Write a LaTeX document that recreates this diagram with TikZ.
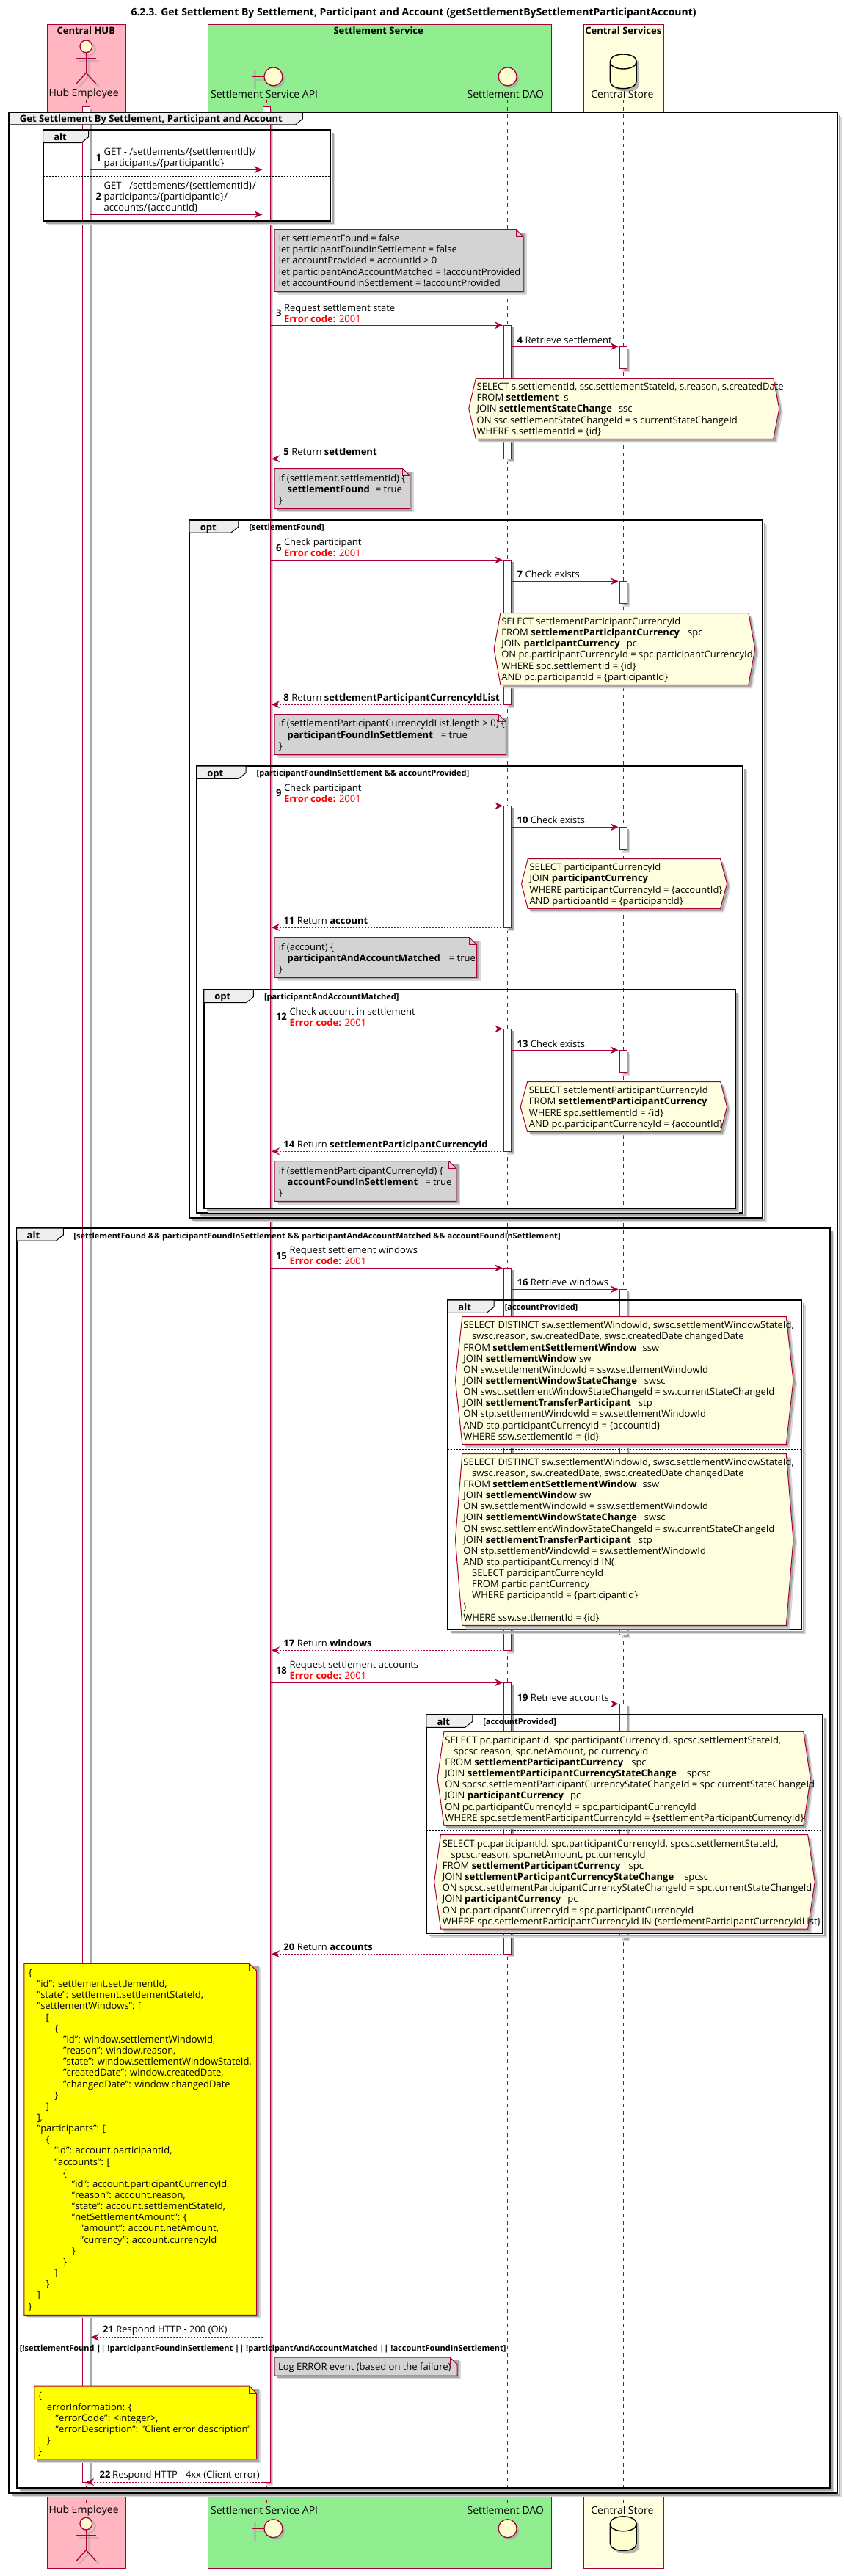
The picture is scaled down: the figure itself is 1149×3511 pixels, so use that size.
\documentclass[tikz,border=0pt]{standalone}
\usepackage{fontspec}
\setmainfont{Open Sans}
\usetikzlibrary{arrows.meta}
\definecolor{maroonc}{HTML}{A80036}
\definecolor{pinkc}{HTML}{FFB6C1}
\definecolor{greenc}{HTML}{90EE90}
\definecolor{lyellow}{HTML}{FFFFE0}
\definecolor{yellowc}{HTML}{FFFF00}
\definecolor{actorc}{HTML}{FEFECE}
\definecolor{notegray}{HTML}{D3D3D3}
\definecolor{tabc}{HTML}{EEEEEE}
\definecolor{errc}{HTML}{FF0000}
\definecolor{shadowa}{HTML}{A6A6A6}
\definecolor{shadowb}{HTML}{D8D8D8}
\newlength\indu \setlength\indu{11.8pt}
\newcommand\ind[1]{\hspace*{#1\indu}}
\newcommand\gp[1]{\hspace{#1pt}}
\newcommand\myErr{{\color{errc}\textbf{Error code:} 2001}}
\tikzset{
  txt/.style={inner sep=0pt,outer sep=0pt,align=left,anchor=base west,text=black,font=\fontsize{13}{15.15}\selectfont},
  boldtxt/.style={font=\fontsize{13}{15.15}\bfseries\selectfont},
  condtxt/.style={font=\fontsize{11}{13}\bfseries\selectfont},
  parttxt/.style={inner sep=0pt,outer sep=0pt,anchor=center,text=black,font=\fontsize{14}{16}\selectfont},
  headtxt/.style={inner sep=0pt,outer sep=0pt,anchor=center,text=black,font=\fontsize{13}{15}\bfseries\selectfont},
  msgline/.style={draw=maroonc,line width=1pt,-{Stealth[length=11pt,width=10pt,inset=4pt]}},
  retline/.style={draw=maroonc,line width=1pt,dash pattern=on 2pt off 2pt,-{Stealth[length=11pt,width=10pt,inset=4pt]}},
  lifeline/.style={draw=maroonc,line width=.8pt,dash pattern=on 5pt off 5pt},
  sepline/.style={draw=black,line width=1pt,dash pattern=on 2pt off 2pt},
  pline/.style={draw=maroonc,line width=1pt},
  actline/.style={draw=maroonc,line width=1.3pt},
}
% text: [style]{name}{x}{y of last line's centre}{content}
\newcommand\myT[5][]{\node[txt,#1] (#2) at (#3,#4+4.5) {#5};}
% frame
\newcommand\myFrame[6]{%
  \draw[shadowb,line width=2pt] (#3+5,#2+6) -- (#3+5,#4+5) -- (#1+6,#4+5);
  \draw[shadowa,line width=2.5pt] (#3+3,#2+4) -- (#3+3,#4+3) -- (#1+4,#4+3);
  \draw[black,line width=2pt] (#1,#2) rectangle (#3,#4);
  \draw[black,fill=tabc,line width=1pt] (#1,#2) -- (#5,#2) -- (#5,#6-8) -- (#5-10,#6) -- (#1,#6) -- cycle;
}
% note: x1 y1 x2 y2 colour
\newcommand\myNote[5]{%
  \fill[shadowb] (#1+5,#2+5) rectangle (#3+5,#4+5);
  \fill[shadowa] (#1+3,#2+4) rectangle (#3+3,#4+3);
  \draw[pline,fill=#5] (#1,#2) -- (#3-10,#2) -- (#3,#2+10) -- (#3,#4) -- (#1,#4) -- cycle;
  \draw[pline] (#3-10,#2) -- (#3-10,#2+10) -- (#3,#2+10);
}
% hex note: x-left-tip x1 y1 x2 x-right-tip y2
\newcommand\myHex[6]{%
  \fill[shadowb] (#2+5,#3+5) -- (#4+5,#3+5) -- (#5+5,#3/2+#6/2+5) -- (#4+5,#6+5) -- (#2+5,#6+5) -- cycle;
  \fill[shadowa] (#2+3,#3+4) -- (#4+3,#3+4) -- (#5+3,#3/2+#6/2+3) -- (#4+3,#6+3) -- (#2+3,#6+3) -- cycle;
  \draw[pline,fill=lyellow] (#2,#3) -- (#4,#3) -- (#5,#3/2+#6/2) -- (#4,#6) -- (#2,#6) -- (#1,#3/2+#6/2) -- cycle;
}
% activation: x y1 y2
\newcommand\myAct[3]{%
  \fill[shadowb] (#1-1,#2+5) rectangle (#1+9,#3+5);
  \fill[shadowa] (#1+1,#2+3) rectangle (#1+8,#3+3);
  \draw[pline,fill=white] (#1-5,#2) rectangle (#1+5,#3);
}
% message: name x1 x2 y style
\newcommand\myMsg[5]{%
  \coordinate (#1-a) at (#2,#4);
  \coordinate (#1-b) at (#3,#4);
  \draw[#5] (#1-a) -- (#1-b);
}
% participant glyphs
\newcommand\actorPath[3]{%
  \draw[#3] (#1,#2) circle[radius=8.3pt];
  \draw[#3] (#1,#2+8.3) -- (#1,#2+36);
  \draw[#3] (#1-14,#2+16) -- (#1+14,#2+16);
  \draw[#3] (#1-13.5,#2+51) -- (#1,#2+36) -- (#1+13.5,#2+51);
}
\newcommand\myActor[2]{%
  \actorPath{#1+4}{#2+4}{draw=shadowa,line width=2.5pt,opacity=.55}
  \fill[actorc] (#1,#2) circle[radius=8.3pt];
  \actorPath{#1}{#2}{actline}
}
\newcommand\myBoundary[2]{% circle centre
  \fill[shadowa,opacity=.7] (#1+3,#2+3) circle[radius=12.5pt];
  \draw[shadowa,opacity=.55,line width=2.5pt] (#1-25,#2-8) -- (#1-25,#2+17) (#1-25,#2+4) -- (#1-10,#2+4);
  \draw[actline,fill=actorc] (#1,#2) circle[radius=12.5pt];
  \draw[actline] (#1-29,#2-12.8) -- (#1-29,#2+12.8) (#1-29,#2) -- (#1-12.5,#2);
}
\newcommand\myEntity[2]{%
  \fill[shadowa,opacity=.7] (#1+3,#2+3) circle[radius=12.5pt];
  \draw[actline,fill=actorc] (#1,#2) circle[radius=12.5pt];
  \draw[actline] (#1-12.8,#2+14) -- (#1+12.8,#2+14);
}
\newcommand\myDb[2]{% centre x, top y
  \fill[shadowa,opacity=.8] (#1-18+4,#2+10+4) .. controls (#1-18+4,#2-3.3+4) and (#1+18+4,#2-3.3+4) .. (#1+18+4,#2+10+4) -- (#1+18+4,#2+36.7+4) .. controls (#1+18+4,#2+50+4) and (#1-18+4,#2+50+4) .. (#1-18+4,#2+36.7+4) -- cycle;
  \draw[black,line width=1.4pt,fill=actorc] (#1-18,#2+10) .. controls (#1-18,#2-3.3) and (#1+18,#2-3.3) .. (#1+18,#2+10) -- (#1+18,#2+36.7) .. controls (#1+18,#2+50) and (#1-18,#2+50) .. (#1-18,#2+36.7) -- cycle;
  \draw[black,line width=1.4pt] (#1-18,#2+10) .. controls (#1-18,#2+23.3) and (#1+18,#2+23.3) .. (#1+18,#2+10);
}
\def\xH{117.6}
\def\xA{364.2}
\def\xD{693.4}
\def\xS{851.4}
\begin{document}
\begin{tikzpicture}[x=.9975pt,y=-1pt]
\useasboundingbox (0pt,0pt) rectangle (1149pt,-3511pt);
% boxes
\draw[pline,fill=pinkc] (64.5,34) rectangle (171.6,3500.4);
\draw[pline,fill=greenc] (284,34) rectangle (753,3500.4);
\draw[pline,fill=lyellow] (797.6,34) rectangle (907,3500.4);
% outer frame background
\fill[white] (12.5,153.3) rectangle (1144,3397.7);
% lifelines
\foreach \nm/\xx in {h/\xH,a/\xA,d/\xD,s/\xS}{
  \coordinate (ll-\nm-top) at (\xx,136.5);
  \coordinate (ll-\nm-bot) at (\xx,3411.3);
  \draw[lifeline] (ll-\nm-top) -- (ll-\nm-bot);
}
% activations
\myAct{\xH}{146}{3383}
\myAct{\xA}{146}{3383}
\myAct{\xD}{443.3}{625.3}
\myAct{\xS}{472.3}{502.3}
\myAct{\xD}{763.3}{960.3}
\myAct{\xS}{792.3}{822.3}
\myAct{\xD}{1098.3}{1264}
\myAct{\xS}{1127.3}{1157.3}
\myAct{\xD}{1402.3}{1569.3}
\myAct{\xS}{1431.3}{1461.3}
\myAct{\xD}{1728.3}{2249.3}
\myAct{\xS}{1757.3}{2228.3}
\myAct{\xD}{2293.3}{2663.3}
\myAct{\xS}{2322.3}{2641.3}
% frames
\myFrame{12.5}{153.3}{1144}{3397.7}{413.5}{170}
\myFrame{58.8}{177.3}{451.5}{300.7}{121}{194.7}
\myFrame{258.8}{709.3}{1041.6}{1660}{325.7}{726}
\myFrame{268.3}{1044}{1014.4}{1653.3}{336}{1061.3}
\myFrame{278.6}{1349}{1004}{1646.7}{346.2}{1366.7}
\myFrame{22.8}{1674}{1133.5}{3390.7}{86.7}{1691}
\myFrame{611.6}{1772}{1094.6}{2221.3}{674.8}{1789.3}
\myFrame{582.2}{2337.3}{1124}{2635}{645.4}{2354.3}
% else separators
\coordinate (s1a) at (58.8,240.3); \coordinate (s1b) at (451.5,240.3); \draw[sepline] (s1a) -- (s1b);
\coordinate (s2a) at (611.6,1975.3); \coordinate (s2b) at (1094.6,1975.3); \draw[sepline] (s2a) -- (s2b);
\coordinate (s3a) at (582.2,2494.3); \coordinate (s3b) at (1124,2494.3); \draw[sepline] (s3a) -- (s3b);
\coordinate (s4a) at (22.8,3193.8); \coordinate (s4b) at (1133.5,3193.8); \draw[sepline] (s4a) -- (s4b);
% frame labels
\myT[boldtxt]{f0}{27}{162.3}{Get Settlement By Settlement, Participant and Account}
\myT[boldtxt]{f1}{73.5}{186.7}{alt}
\myT[boldtxt]{f2}{273.5}{719}{opt}
\myT[condtxt]{c2}{340.4}{718.3}{[settlementFound]}
\myT[boldtxt]{f3}{283}{1053.7}{opt}
\myT[condtxt]{c3}{350.6}{1053.3}{[participantFoundInSettlement \&\& accountProvided]}
\myT[boldtxt]{f4}{293}{1358}{opt}
\myT[condtxt]{c4}{361}{1358}{[participantAndAccountMatched]}
\myT[boldtxt]{f5}{36.8}{1684}{alt}
\myT[condtxt]{c5}{100.7}{1683.7}{[settlementFound \&\& participantFoundInSettlement \&\& participantAndAccountMatched \&\& accountFoundInSettlement]}
\myT[boldtxt]{f6}{626}{1781.7}{alt}
\myT[condtxt]{c6}{689.5}{1781.3}{[accountProvided]}
\myT[boldtxt]{f7}{597}{2346.7}{alt}
\myT[condtxt]{c7}{660}{2346.3}{[accountProvided]}
\myT[condtxt]{c8}{27}{3200}{[!settlementFound || !participantFoundInSettlement || !participantAndAccountMatched || !accountFoundInSettlement]}
% notes
\myNote{375}{312.7}{715}{397.3}{notegray}
\myT{n1}{380.8}{385.7}{let settlementFound = false\\let participantFoundInSettlement = false\\let accountProvided = accountId > 0\\let participantAndAccountMatched = !accountProvided\\let accountFoundInSettlement = !accountProvided}
\myNote{375}{638.7}{560}{693.3}{notegray}
\myT{n2}{380.8}{682.3}{if (settlement.settlementId) \{\\\ind{1}\textbf{settlementFound}\gp{8}= true\\\}}
\myNote{375}{973.7}{691}{1028.3}{notegray}
\myT{n3}{380.8}{1016.7}{if (settlementParticipantCurrencyIdList.length > 0) \{\\\ind{1}\textbf{participantFoundInSettlement}\gp{11}= true\\\}}
\myNote{375}{1277.7}{651.3}{1332.3}{notegray}
\myT{n4}{380.8}{1321}{if (account) \{\\\ind{1}\textbf{participantAndAccountMatched}\gp{12}= true\\\}}
\myNote{375}{1582.7}{623.4}{1637.3}{notegray}
\myT{n5}{380.8}{1626}{if (settlementParticipantCurrencyId) \{\\\ind{1}\textbf{accountFoundInSettlement}\gp{10}= true\\\}}
\myNote{33}{2676.3}{350.6}{3155.3}{yellowc}
\myT{n6}{39}{3143.5}{\{\\
\ind{1}"id": settlement.settlementId,\\
\ind{1}"state": settlement.settlementStateId,\\
\ind{1}"settlementWindows": [\\
\ind{2}[\\
\ind{3}\{\\
\ind{4}"id": window.settlementWindowId,\\
\ind{4}"reason": window.reason,\\
\ind{4}"state": window.settlementWindowStateId,\\
\ind{4}"createdDate": window.createdDate,\\
\ind{4}"changedDate": window.changedDate\\
\ind{3}\}\\
\ind{2}]\\
\ind{1}],\\
\ind{1}"participants": [\\
\ind{2}\{\\
\ind{3}"id": account.participantId,\\
\ind{3}"accounts": [\\
\ind{4}\{\\
\ind{5}"id": account.participantCurrencyId,\\
\ind{5}"reason": account.reason,\\
\ind{5}"state": account.settlementStateId,\\
\ind{5}"netSettlementAmount": \{\\
\ind{6}"amount": account.netAmount,\\
\ind{6}"currency": account.currencyId\\
\ind{5}\}\\
\ind{4}\}\\
\ind{3}]\\
\ind{2}\}\\
\ind{1}]\\
\}}
\myNote{375}{3213.1}{624.8}{3238.2}{notegray}
\myT{n7}{380}{3225.5}{Log ERROR event (based on the failure)}
\myNote{47}{3252}{350.6}{3351.6}{yellowc}
\myT{n8}{52.2}{3341.1}{\{\\
\ind{1}errorInformation: \{\\
\ind{2}"errorCode": <integer>,\\
\ind{2}"errorDescription": "Client error description"\\
\ind{1}\}\\
\}}
% hex notes
\myHex{640.3}{650}{515.7}{1056.4}{1064.4}{598.3}
\myT{h1}{651.3}{587.7}{SELECT s.settlementId, ssc.settlementStateId, s.reason, s.createdDate\\FROM \textbf{settlement}\gp{7}s\\JOIN \textbf{settlementStateChange}\gp{9}ssc\\ON ssc.settlementStateChangeId = s.currentStateChangeId\\WHERE s.settlementId = \{id\}}
\myHex{674.8}{683.6}{835.7}{1022.5}{1031.3}{933.3}
\myT{h2}{685}{922.7}{SELECT settlementParticipantCurrencyId\\FROM \textbf{settlementParticipantCurrency}\gp{11}spc\\JOIN \textbf{participantCurrency}\gp{9}pc\\ON pc.participantCurrencyId = spc.participantCurrencyId\\WHERE spc.settlementId = \{id\}\\AND pc.participantId = \{participantId\}}
\myHex{712.3}{721}{1170.7}{984}{993}{1238.3}
\myT{h3}{723.3}{1227.7}{SELECT participantCurrencyId\\JOIN \textbf{participantCurrency}\\WHERE participantCurrencyId = \{accountId\}\\AND participantId = \{participantId\}}
\myHex{710.9}{720.4}{1474.7}{984.3}{993}{1542.3}
\myT{h4}{722.6}{1531.7}{SELECT settlementParticipantCurrencyId\\FROM \textbf{settlementParticipantCurrency}\\WHERE spc.settlementId = \{id\}\\AND pc.participantCurrencyId = \{accountId\}}
\myHex{622}{631.4}{1794.7}{1074}{1083.6}{1968.3}
\myT{h5}{633}{1957.7}{SELECT DISTINCT sw.settlementWindowId, swsc.settlementWindowStateId,\\\ind{1}swsc.reason, sw.createdDate, swsc.createdDate changedDate\\FROM \textbf{settlementSettlementWindow}\gp{8}ssw\\JOIN \textbf{settlementWindow} sw\\ON sw.settlementWindowId = ssw.settlementWindowId\\JOIN \textbf{settlementWindowStateChange}\gp{10}swsc\\ON swsc.settlementWindowStateChangeId = sw.currentStateChangeId\\JOIN \textbf{settlementTransferParticipant}\gp{10}stp\\ON stp.settlementWindowId = sw.settlementWindowId\\AND stp.participantCurrencyId = \{accountId\}\\WHERE ssw.settlementId = \{id\}}
\myHex{622}{631.4}{1981.7}{1074}{1083.6}{2215.3}
\myT{h6}{633}{2204.7}{SELECT DISTINCT sw.settlementWindowId, swsc.settlementWindowStateId,\\\ind{1}swsc.reason, sw.createdDate, swsc.createdDate changedDate\\FROM \textbf{settlementSettlementWindow}\gp{8}ssw\\JOIN \textbf{settlementWindow} sw\\ON sw.settlementWindowId = ssw.settlementWindowId\\JOIN \textbf{settlementWindowStateChange}\gp{10}swsc\\ON swsc.settlementWindowStateChangeId = sw.currentStateChangeId\\JOIN \textbf{settlementTransferParticipant}\gp{10}stp\\ON stp.settlementWindowId = sw.settlementWindowId\\AND stp.participantCurrencyId IN(\\\ind{1}SELECT participantCurrencyId\\\ind{1}FROM participantCurrency\\\ind{1}WHERE participantId = \{participantId\}\\)\\WHERE ssw.settlementId = \{id\}}
\myHex{597.6}{606.5}{2359.7}{1097.5}{1107}{2488.3}
\myT{h7}{608}{2477.7}{SELECT pc.participantId, spc.participantCurrencyId, spcsc.settlementStateId,\\\ind{1}spcsc.reason, spc.netAmount, pc.currencyId\\FROM \textbf{settlementParticipantCurrency}\gp{11}spc\\JOIN \textbf{settlementParticipantCurrencyStateChange}\gp{14}spcsc\\ON spcsc.settlementParticipantCurrencyStateChangeId = spc.currentStateChangeId\\JOIN \textbf{participantCurrency}\gp{9}pc\\ON pc.participantCurrencyId = spc.participantCurrencyId\\WHERE spc.settlementParticipantCurrencyId = \{settlementParticipantCurrencyId\}}
\myHex{593.2}{602}{2500.7}{1103.4}{1113}{2629}
\myT{h8}{604.3}{2618.7}{SELECT pc.participantId, spc.participantCurrencyId, spcsc.settlementStateId,\\\ind{1}spcsc.reason, spc.netAmount, pc.currencyId\\FROM \textbf{settlementParticipantCurrency}\gp{11}spc\\JOIN \textbf{settlementParticipantCurrencyStateChange}\gp{14}spcsc\\ON spcsc.settlementParticipantCurrencyStateChangeId = spc.currentStateChangeId\\JOIN \textbf{participantCurrency}\gp{9}pc\\ON pc.participantCurrencyId = spc.participantCurrencyId\\WHERE spc.settlementParticipantCurrencyId IN \{settlementParticipantCurrencyIdList\}}
% messages
\myMsg{m1}{122.6}{358.2}{231.3}{msgline}
\myT[boldtxt]{k1}{131}{215}{1}
\myT{t1}{142}{221.7}{GET - /settlements/\{settlementId\}/\\participants/\{participantId\}}
\myMsg{m2}{122.6}{358.2}{292.3}{msgline}
\myT[boldtxt]{k2}{131}{267.7}{2}
\myT{t2}{142}{283}{GET - /settlements/\{settlementId\}/\\participants/\{participantId\}/\\accounts/\{accountId\}}
\myMsg{m3}{369.2}{686.7}{443.3}{msgline}
\myT[boldtxt]{k3}{377}{426.7}{3}
\myT{t3}{388}{435}{Request settlement state\\\myErr}
\myMsg{m4}{698.4}{844.7}{472.3}{msgline}
\myT[boldtxt]{k4}{706.4}{463.7}{4}
\myT{t4}{717.5}{463.7}{Retrieve settlement}
\myMsg{m5}{688.4}{371}{625.3}{retline}
\myT[boldtxt]{k5}{387.4}{615.7}{5}
\myT{t5}{398.4}{615.7}{Return \textbf{settlement}}
\myMsg{m6}{369.2}{686.7}{763.3}{msgline}
\myT[boldtxt]{k6}{377}{746.7}{6}
\myT{t6}{388}{753.7}{Check participant\\\myErr}
\myMsg{m7}{698.4}{844.7}{792.3}{msgline}
\myT[boldtxt]{k7}{706.4}{782.7}{7}
\myT{t7}{717.5}{782.7}{Check exists}
\myMsg{m8}{688.4}{371}{960.3}{retline}
\myT[boldtxt]{k8}{387.4}{950.7}{8}
\myT{t8}{398.4}{950.7}{Return \textbf{settlementParticipantCurrencyIdList}}
\myMsg{m9}{369.2}{686.7}{1098.3}{msgline}
\myT[boldtxt]{k9}{377}{1081.3}{9}
\myT{t9}{388}{1088.7}{Check participant\\\myErr}
\myMsg{m10}{698.4}{844.7}{1127.3}{msgline}
\myT[boldtxt]{k10}{706.4}{1117.7}{10}
\myT{t10}{724.8}{1117.7}{Check exists}
\myMsg{m11}{688.4}{371}{1264}{retline}
\myT[boldtxt]{k11}{387.4}{1255.3}{11}
\myT{t11}{405.8}{1255.3}{Return \textbf{account}}
\myMsg{m12}{369.2}{686.7}{1402.3}{msgline}
\myT[boldtxt]{k12}{377}{1385.7}{12}
\myT{t12}{395.5}{1393.7}{Check account in settlement\\\myErr}
\myMsg{m13}{698.4}{844.7}{1431.3}{msgline}
\myT[boldtxt]{k13}{706.4}{1422.7}{13}
\myT{t13}{724.8}{1422.7}{Check exists}
\myMsg{m14}{688.4}{371}{1569.3}{retline}
\myT[boldtxt]{k14}{387.4}{1559.7}{14}
\myT{t14}{405.8}{1559.7}{Return \textbf{settlementParticipantCurrencyId}}
\myMsg{m15}{369.2}{686.7}{1728.3}{msgline}
\myT[boldtxt]{k15}{377}{1711.7}{15}
\myT{t15}{395.5}{1718.7}{Request settlement windows\\\myErr}
\myMsg{m16}{698.4}{844.7}{1757.3}{msgline}
\myT[boldtxt]{k16}{706.4}{1747.7}{16}
\myT{t16}{724.8}{1747.7}{Retrieve windows}
\myMsg{m17}{688.4}{371}{2249.3}{retline}
\myT[boldtxt]{k17}{387.4}{2239.7}{17}
\myT{t17}{405.8}{2239.7}{Return \textbf{windows}}
\myMsg{m18}{369.2}{686.7}{2293.3}{msgline}
\myT[boldtxt]{k18}{377}{2276.7}{18}
\myT{t18}{395.5}{2283.7}{Request settlement accounts\\\myErr}
\myMsg{m19}{698.4}{844.7}{2322.3}{msgline}
\myT[boldtxt]{k19}{706.4}{2313.7}{19}
\myT{t19}{724.8}{2313.7}{Retrieve accounts}
\myMsg{m20}{688.4}{371}{2663.3}{retline}
\myT[boldtxt]{k20}{387.4}{2653.7}{20}
\myT{t20}{405.8}{2653.7}{Return \textbf{accounts}}
\myMsg{m21}{359.2}{124.3}{3185.5}{retline}
\myT[boldtxt]{k21}{140.4}{3175.3}{21}
\myT{t21}{158.8}{3175.3}{Respond HTTP - 200 (OK)}
\myMsg{m22}{359.2}{117.6}{3383}{retline}
\myT[boldtxt]{k22}{136}{3373.1}{22}
\myT{t22}{153.6}{3373.1}{Respond HTTP - 4xx (Client error)}
% title and participants
\node[inner sep=0pt,text=black,font=\fontsize{14}{16}\bfseries\selectfont] (title) at (565,18) {6.2.3. Get Settlement By Settlement, Participant and Account (getSettlementBySettlementParticipantAccount)};
\node[headtxt] (bh) at (\xH,41.7) {Central HUB};
\node[headtxt] (bs) at (517,41.7) {Settlement Service};
\node[headtxt] (bc) at (\xS,41.7) {Central Services};
\node[parttxt] (p1t) at (114.4,128.3) {Hub Employee};
\node[parttxt] (p2t) at (361,128.3) {Settlement Service API};
\node[parttxt] (p3t) at (690.5,128.3) {Settlement DAO};
\node[parttxt] (p4t) at (850,128.3) {Central Store};
\node[parttxt] (p1b) at (114.4,3421.5) {Hub Employee};
\node[parttxt] (p2b) at (361,3421.5) {Settlement Service API};
\node[parttxt] (p3b) at (690.5,3421.5) {Settlement DAO};
\node[parttxt] (p4b) at (850,3421.5) {Central Store};
\myActor{\xH}{63.3}
\myActor{\xH}{3439.6}
\myBoundary{373.4}{104.4}
\myBoundary{373.4}{3446.2}
\myEntity{\xD}{104.4}
\myEntity{\xD}{3446.2}
\myDb{\xS}{74}
\myDb{\xS}{3429.8}
\end{tikzpicture}
\end{document}
